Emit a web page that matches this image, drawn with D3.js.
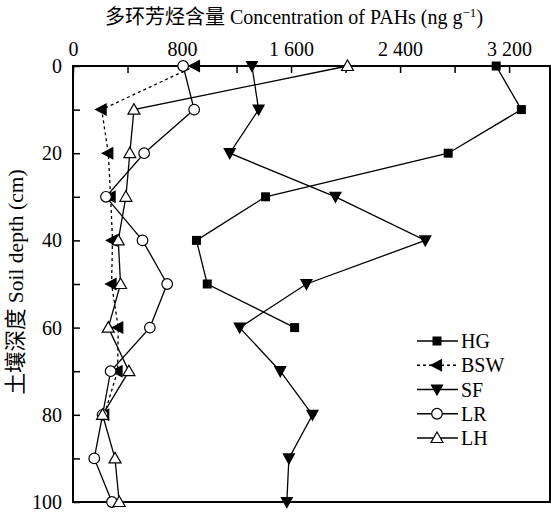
<!DOCTYPE html>
<html><head><meta charset="utf-8">
<script src="https://cdn.jsdelivr.net/npm/d3@7"></script>
<style>body{margin:0;background:#fff}svg{display:block}
svg text{font-family:"Liberation Serif","Times New Roman",Times,"DejaVu Serif","Noto Sans CJK SC",serif !important;}
</style>
</head><body>
<svg id="c" width="551" height="512"></svg>
<script>
const depths = [0,10,20,30,40,50,60,70,80,90,100];
const HG  = [3105,3290,2753,1413,906,985,1626];
const BSW = [895,210,259,276,290,283,332,327,229];
const SF  = [1313,1362,1150,1926,2585,1713,1223,1521,1757,1584,1569];
const LR  = [808,889,522,242,510,691,564,276,217,156,286];
const LH  = [2014,447,417,388,332,349,259,410,217,308,339];
const seriesNames = ["HG","BSW","SF","LR","LH"];
const xTickLabels = [0,800,1600,2400,3200];
const yTickLabels = [0,20,40,60,80,100];

const series = [
  {name:"HG", vals:HG, marker:"square", fill:"#000", dash:null},
  {name:"BSW", vals:BSW, marker:"left", fill:"#000", dash:"3,3"},
  {name:"SF", vals:SF, marker:"down", fill:"#000", dash:null},
  {name:"LR", vals:LR, marker:"circle", fill:"#fff", dash:null},
  {name:"LH", vals:LH, marker:"up", fill:"#fff", dash:null}
];

const svg = d3.select("#c");
const x = d3.scaleLinear().domain([0,3500]).range([73,550]);
const y = d3.scaleLinear().domain([0,100]).range([66,502]);

svg.append("rect").attr("x",73).attr("y",66).attr("width",550-73).attr("height",502-66)
  .attr("fill","none").attr("stroke","#000").attr("stroke-width",2);

const fmt = d => d>=1000 ? d3.format(",")(d).replace(","," ") : String(d);

const xAxis = d3.axisTop(x).tickValues(d3.range(0,3500,400)).tickSize(-7).tickSizeOuter(0)
  .tickFormat(d => xTickLabels.includes(d) ? fmt(d) : "");
const gx = svg.append("g").attr("transform","translate(0,66)").call(xAxis);
gx.select(".domain").remove();
gx.attr("font-family",null).attr("font-size",null);
gx.selectAll(".tick line").attr("stroke","#000").attr("stroke-width",1.5);
gx.selectAll(".tick text").attr("y",-10).style("font-size","20px").attr("fill","#000");

const yAxis = d3.axisLeft(y).tickValues(d3.range(0,101,10)).tickSize(-7).tickSizeOuter(0)
  .tickFormat(d => yTickLabels.includes(d) ? d : "");
const gy = svg.append("g").attr("transform","translate(73,0)").call(yAxis);
gy.select(".domain").remove();
gy.attr("font-family",null).attr("font-size",null);
gy.selectAll(".tick line").attr("stroke","#000").attr("stroke-width",1.5);
gy.selectAll(".tick text").attr("x",-11).style("font-size","20px").attr("fill","#000");

svg.append("text").attr("x",294).attr("y",24).attr("text-anchor","middle")
  .style("font-size","20px")
  .html('多环芳烃含量 Concentration of PAHs (ng g<tspan dy="-7" font-size="13">−1</tspan><tspan dy="7">)</tspan>');
svg.append("text").attr("transform","translate(23,282) rotate(-90)").attr("text-anchor","middle")
  .style("font-size","21.5px").text("土壤深度 Soil depth (cm)");

function drawMarker(g, type, fill, cx, cy){
  if(type==="square"){
    g.append("rect").attr("x",cx-4.5).attr("y",cy-4.5).attr("width",9).attr("height",9).attr("fill","#000");
  } else if(type==="circle"){
    g.append("circle").attr("cx",cx).attr("cy",cy).attr("r",5.3).attr("fill",fill).attr("stroke","#000").attr("stroke-width",1.2);
  } else {
    let pts;
    if(type==="up") pts=[[0,-6],[6,4.5],[-6,4.5]];
    if(type==="down") pts=[[-5.5,-4.5],[5.5,-4.5],[0,5.5]];
    if(type==="left") pts=[[-6,0],[4.5,-5.5],[4.5,5.5]];
    g.append("path").attr("d","M"+pts.map(p=>[cx+p[0],cy+p[1]].join(",")).join("L")+"Z")
      .attr("fill",fill).attr("stroke","#000").attr("stroke-width",1.2);
  }
}

const line = d3.line().x(d=>x(d.v)).y(d=>y(d.d));
series.forEach(s=>{
  const data = s.vals.map((v,i)=>({v, d:depths[i]}));
  svg.append("path").datum(data).attr("d",line).attr("fill","none").attr("stroke","#000")
    .attr("stroke-width",1.3).attr("stroke-dasharray",s.dash);
});
series.forEach(s=>{
  const g = svg.append("g");
  s.vals.forEach((v,i)=>drawMarker(g,s.marker,s.fill,x(v),y(depths[i])));
});

const ly = d3.scalePoint().domain(seriesNames).range([341,438]);
series.forEach(s=>{
  const yy = ly(s.name);
  svg.append("line").attr("x1",417).attr("x2",458).attr("y1",yy).attr("y2",yy)
    .attr("stroke","#000").attr("stroke-width",1.3).attr("stroke-dasharray",s.dash);
  const g = svg.append("g");
  drawMarker(g,s.marker,s.fill,437,yy);
  svg.append("text").attr("x",461).attr("y",yy+7).style("font-size","20px").text(s.name);
});
</script>
</body></html>
